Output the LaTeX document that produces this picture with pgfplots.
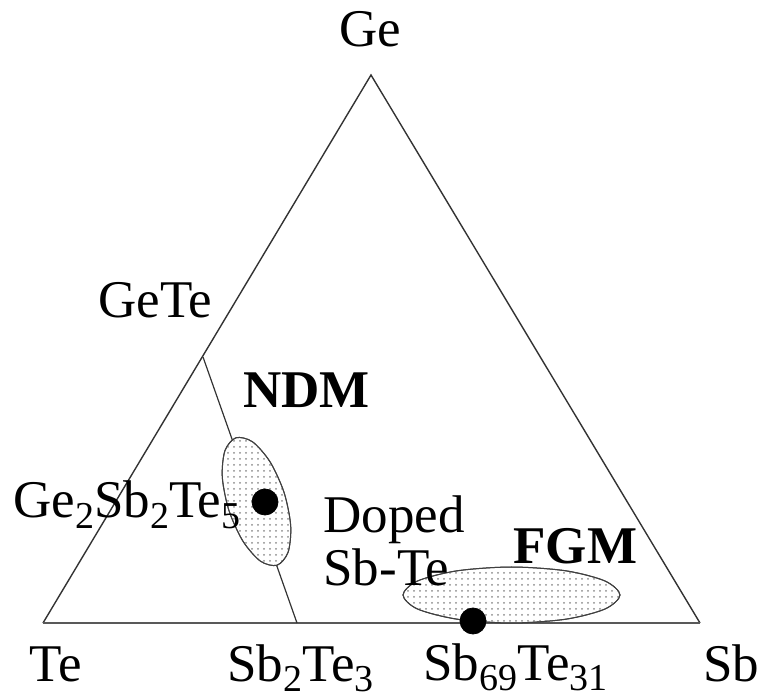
\documentclass[border=0pt]{standalone}
\usepackage{fontspec}
\setmainfont{Liberation Serif}
\usepackage{pgfplots}
\pgfplotsset{compat=1.18}
\usetikzlibrary{patterns}
\newcommand{\lbl}{\fontsize{26.5}{30}\selectfont}
\newcommand{\sub}[1]{\raisebox{-5pt}{\fontsize{19}{20}\selectfont #1}}
\begin{document}
\begin{tikzpicture}
\begin{axis}[
  width=380pt, height=349.5pt, scale only axis,
  xmin=0, xmax=760, ymin=0, ymax=699, y dir=reverse,
  hide axis, clip=false,
]
% triangle
\addplot[draw=black!80, line width=0.7pt] coordinates {(43,623) (371,75) (700,623)};
\addplot[draw=black!65, line width=1.1pt] coordinates {(43,623) (700,623)};
% GeTe - Sb2Te3 tie line
\addplot[draw=black!80, line width=0.6pt] coordinates {(203,357) (297,623)};
% NDM region
\addplot[draw=black!75, line width=0.5pt, fill=white, postaction={pattern=dots, pattern color=black!45}, smooth cycle] coordinates {
 (277.1,565.2) (288.1,552.2) (290.7,525.7) (284.1,492.6) (270.1,461.9) (252.5,441.8)
 (235.9,437.8) (224.9,450.8) (222.3,477.3) (228.9,510.4) (242.9,541.1) (260.5,561.2)};
% FGM region
\addplot[draw=black!75, line width=0.5pt, fill=white, postaction={pattern=dots, pattern color=black!45}, smooth cycle] coordinates {
 (620,595) (605,609) (565.8,619.2) (511.5,623) (457.2,619.2) (417.5,609)
 (403,595) (417.5,581) (457.2,570.8) (511.5,567) (565.8,570.8) (605,581)};
% compositions
\addplot[only marks, mark=*, mark size=6.5pt, black] coordinates {(265,502) (473,621)};
% labels
\node[anchor=base, inner sep=0pt] at (axis cs:370,47) {\lbl Ge};
\node[anchor=base west, inner sep=0pt] at (axis cs:98,318) {\lbl GeTe};
\node[anchor=base west, inner sep=0pt] at (axis cs:243,408) {\lbl\bfseries NDM};
\node[anchor=base west, inner sep=0pt] at (axis cs:13,518) {\lbl Ge\sub{2}Sb\sub{2}Te\sub{5}};
\node[anchor=base west, inner sep=0pt] at (axis cs:323,533) {\lbl Doped};
\node[anchor=base west, inner sep=0pt] at (axis cs:323,585) {\lbl Sb-Te};
\node[anchor=base west, inner sep=0pt] at (axis cs:513,564) {\lbl\bfseries FGM};
\node[anchor=base west, inner sep=0pt] at (axis cs:29,681) {\lbl Te};
\node[anchor=base west, inner sep=0pt] at (axis cs:227,681) {\lbl Sb\sub{2}Te\sub{3}};
\node[anchor=base west, inner sep=0pt] at (axis cs:423,680) {\lbl Sb\sub{69}Te\sub{31}};
\node[anchor=base west, inner sep=0pt] at (axis cs:703,681) {\lbl Sb};
\end{axis}
\pgfresetboundingbox
\useasboundingbox (current axis.south west) rectangle (current axis.north east);
\end{tikzpicture}
\end{document}
